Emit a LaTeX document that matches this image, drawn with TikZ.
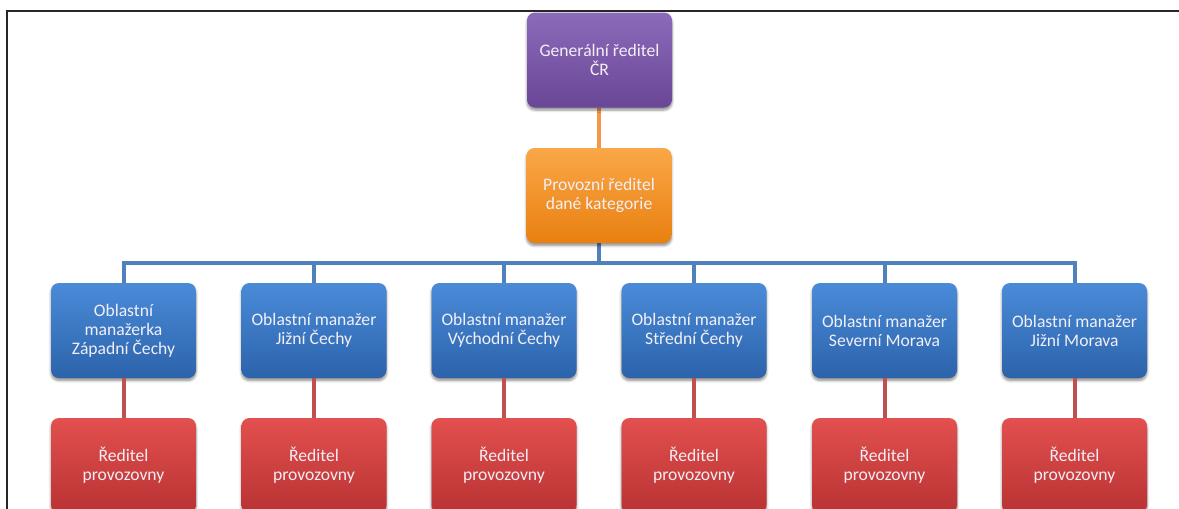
\documentclass[tikz,border=0pt]{standalone}
\usepackage{fontspec}
\setmainfont{Carlito}
\usetikzlibrary{shadows.blur}

\definecolor{purpleTop}{HTML}{8C6ABA}
\definecolor{purpleBot}{HTML}{6A4796}
\definecolor{orangeTop}{HTML}{FAA748}
\definecolor{orangeBot}{HTML}{E98010}
\definecolor{blueTop}{HTML}{4A8BD8}
\definecolor{blueBot}{HTML}{2C63AB}
\definecolor{redTop}{HTML}{E2504F}
\definecolor{redBot}{HTML}{B93232}
\definecolor{lineOrange}{HTML}{F79646}
\definecolor{lineBlue}{HTML}{4F81BD}
\definecolor{lineRed}{HTML}{C0504D}
\definecolor{txt}{HTML}{F2EFF6}

\tikzset{
  box/.style={rectangle, rounded corners=8pt, minimum width=145pt, minimum height=95pt,
    align=center, text=txt, font=\fontsize{17.6}{19}\selectfont,
    blur shadow={shadow xshift=0pt, shadow yshift=-2.5pt, shadow opacity=45,
      shadow blur steps=6, shadow blur radius=2.5pt}},
  purplebox/.style={box, top color=purpleTop, bottom color=purpleBot},
  orangebox/.style={box, top color=orangeTop, bottom color=orangeBot},
  bluebox/.style={box, top color=blueTop, bottom color=blueBot},
  redbox/.style={box, top color=redTop, bottom color=redBot},
  link/.style={line width=4pt},
  frame/.style={line width=2.4pt, black!85}
}

\begin{document}
\begin{tikzpicture}[x=1pt, y=-1pt]
\useasboundingbox (0,0) rectangle (1179,509);
\clip (0,0) rectangle (1179,509);

% outer frame (top and left edges)
\draw[frame] (7,509.5) -- (7,11) -- (1180,11);

% connectors, drawn first so the boxes sit on top of them
\coordinate (genS) at (599,108);
\coordinate (provN) at (599,148);
\coordinate (provS) at (599,243);
\coordinate (bus) at (599,263);
\draw[link, lineOrange] (genS) -- (provN);
\draw[link, lineBlue] (provS) -- (bus);

% top of the hierarchy
\node[purplebox] (gen) at (599.5,60) {Generální ředitel\\ČR};
\node[orangebox] (prov) at (599,195.5) {Provozní ředitel\\dané kategorie};

% regional managers
\node[bluebox] (b1) at (123.5,330.5) {Oblastní\\manažerka\\Západní Čechy};
\node[bluebox] (b2) at (314,330.5) {Oblastní manažer\\Jižní Čechy};
\node[bluebox] (b3) at (504,330.5) {Oblastní manažer\\Východní Čechy};
\node[bluebox] (b4) at (694,330.5) {Oblastní manažer\\Střední Čechy};
\node[bluebox] (b5) at (884.5,330.5) {Oblastní manažer\\Severní Morava};
\node[bluebox] (b6) at (1074.5,330.5) {Oblastní manažer\\Jižní Morava};

% branch directors
\foreach \i/\x in {1/123.5,2/314,3/504,4/694,5/884.5,6/1074.5}{
  \node[redbox] (r\i) at (\x,465.5) {Ředitel\\provozovny};
}

% bus to the regional managers and links down to the branches
\foreach \i in {1,...,6}{
  \draw[link, lineBlue] (bus) -| (b\i.north);
  \draw[link, lineRed] (b\i.south) -- (r\i.north);
}
\end{tikzpicture}
\end{document}
